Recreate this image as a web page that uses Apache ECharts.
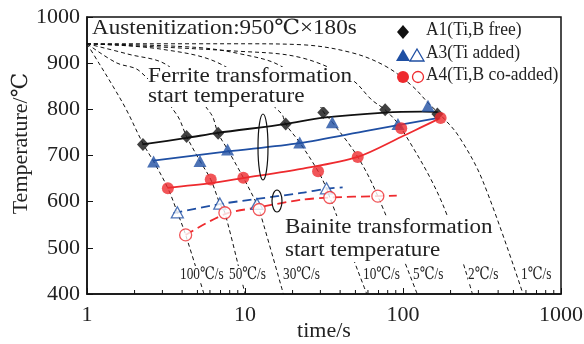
<!DOCTYPE html>
<html>
<head>
<meta charset="utf-8">
<script src="https://cdn.jsdelivr.net/npm/echarts@6/dist/echarts.min.js"></script>
<style>
  html, body { margin: 0; padding: 0; background: #fff; }
  #chart { width: 584px; height: 344px; }
</style>
</head>
<body>
<div id="chart"></div>
<script>
// cooling curves [time s, temperature ℃]
const cool100 = [[1, 942], [1.19, 900], [1.46, 850], [1.77, 800], [2.26, 726], [2.64, 687], [3.25, 629], [3.73, 577], [4.21, 528], [5.5, 400]];
const cool50 = [[1, 942], [1.53, 901], [2.15, 883], [3.69, 789], [4.27, 741], [5.19, 688], [6.07, 648], [6.93, 596], [7.46, 576], [10, 400]];
const cool30 = [[1, 942], [1.8, 920], [3.27, 894], [6.07, 791], [6.76, 748], [7.76, 713], [9.76, 652], [11.9, 595], [12.3, 583], [17.5, 400]];
const cool10 = [[1, 942], [3, 930], [7.2, 896], [16.9, 792], [18.1, 768], [22.2, 728], [29, 666], [32.8, 629], [34.4, 609], [59, 400]];
const cool5 = [[1, 942], [5, 934], [10, 918], [16.4, 896], [26.3, 842], [31.3, 795], [35.7, 772], [51.7, 697], [69.3, 612], [123, 400]];
const cool2 = [[1, 942], [8.9, 926], [22.6, 912], [47, 865], [63.6, 820], [77, 799], [97.5, 759], [177, 597], [275, 400]];
const cool1 = [[1, 942], [10, 942], [22.6, 940], [47, 923], [77, 894], [114, 851], [146, 812], [177, 784], [225, 742], [318, 647], [575, 400]];

// ferrite start points
const a1Ferrite = [[2.26, 724], [4.27, 741], [6.76, 748], [18.1, 768], [31.3, 793], [77.1, 799], [165, 790]];
const a3Ferrite = [[2.64, 687], [5.19, 688], [7.76, 713], [22.2, 728], [35.7, 772], [92.9, 768], [144, 808]];
const a4Ferrite = [[3.25, 629], [6.07, 648], [9.76, 652], [29.0, 666], [51.7, 697], [97.5, 759], [173, 781]];
// bainite start points
const a3Bainite = [[3.73, 577], [6.93, 596], [11.9, 595], [32.8, 629]];
const a4Bainite = [[4.21, 528], [7.46, 576], [12.3, 583], [34.4, 609], [69.3, 612]];

// fitted curves
const a1Fit = [[2.24, 724], [4.27, 738], [6.73, 749], [18.0, 768], [31.4, 782], [76.8, 793], [132, 795], [165, 794]];
const a3Fit = [[2.63, 689], [7.79, 709], [22.1, 727], [60, 754], [165, 781]];
const a4Fit = [[3.23, 630], [6.07, 640], [9.72, 651], [22.7, 671], [51.7, 697], [97.1, 740], [132, 762], [172, 781]];
const a3BainiteFit = [[3.53, 575], [7.03, 595], [11.9, 606], [22.7, 619], [32.8, 628], [41.5, 631]];
const a4BainiteFit = [[4.21, 528], [7.46, 573], [12.3, 588], [22.7, 604], [34.2, 609], [69.3, 612], [91.3, 613]];

const rateLabels = ['100℃/s', '50℃/s', '30℃/s', '10℃/s', '5℃/s', '2℃/s', '1℃/s'];
const minorTicks = [2, 3, 4, 5, 6, 7, 8, 9, 20, 30, 40, 50, 60, 70, 80, 90, 200, 300, 400, 500, 600, 700, 800, 900];

const FONT = '"Liberation Serif", "DejaVu Serif", serif';
const BLUE = '#1f4fa3';
const RED = '#ee2a2e';

const chart = echarts.init(document.getElementById('chart'));

function coolSeries(data) {
  return {
    type: 'line', data: data, smooth: 0.35, showSymbol: false, silent: true, z: 1,
    lineStyle: { color: '#111', width: 1, type: [4, 3] }
  };
}
function fitSeries(data, color, dashed) {
  return {
    type: 'line', data: data, smooth: 0.3, showSymbol: false, silent: true, z: 2,
    lineStyle: { color: color, width: 1.8, type: dashed ? [9, 5] : 'solid' }
  };
}
function pointSeries(data, symbol, size, color, hollow) {
  return {
    type: 'scatter', data: data, symbol: symbol, symbolSize: size, z: 3,
    itemStyle: hollow ? { color: '#fff', borderColor: color, borderWidth: 1.3 } : { color: color }
  };
}

// label x positions are layout only
const rateLabelX = [180, 229, 283, 363, 413, 468, 521];

chart.setOption({
  animation: false,
  grid: { left: 87, right: 23, top: 17, bottom: 50, outerBoundsMode: 'none',
          show: true, borderColor: '#111', borderWidth: 1.5 },
  xAxis: {
    type: 'log', logBase: 10, min: 1, max: 1000,
    name: 'time/s', nameLocation: 'middle', nameGap: 26, nameMoveOverlap: false,
    nameTextStyle: { fontFamily: FONT, fontSize: 22, color: '#222' },
    axisLine: { lineStyle: { color: '#111', width: 1.5 } },
    axisTick: { inside: true, length: 6, lineStyle: { color: '#111' } },
    axisLabel: { fontFamily: FONT, fontSize: 22, color: '#222', margin: 10,
                 formatter: function (v) { return String(v); } },
    splitLine: { show: false }
  },
  yAxis: {
    type: 'value', min: 400, max: 1000, interval: 100,
    name: 'Temperature/℃', nameLocation: 'middle', nameGap: 55, nameRotate: 90, nameMoveOverlap: false,
    nameTextStyle: { fontFamily: FONT, fontSize: 22, color: '#222', padding: [0, 0, 0, 24] },
    axisLine: { lineStyle: { color: '#111', width: 1.5 } },
    axisTick: { inside: true, length: 6, lineStyle: { color: '#111' } },
    axisLabel: { fontFamily: FONT, fontSize: 22, color: '#222', margin: 7,
                 formatter: function (v) { return String(v); } },
    splitLine: { show: false }
  },
  series: [
    coolSeries(cool100), coolSeries(cool50), coolSeries(cool30), coolSeries(cool10),
    coolSeries(cool5), coolSeries(cool2), coolSeries(cool1),
    fitSeries(a1Fit, '#111', false),
    fitSeries(a3Fit, BLUE, false),
    fitSeries(a4Fit, RED, false),
    fitSeries(a3BainiteFit, BLUE, true),
    fitSeries(a4BainiteFit, RED, true),
    pointSeries(a1Ferrite, 'diamond', [12, 13], '#111', false),
    pointSeries(a3Ferrite, 'triangle', [13, 12], BLUE, false),
    pointSeries(a4Ferrite, 'circle', 12, RED, false),
    pointSeries(a3Bainite, 'triangle', [12, 11], BLUE, true),
    pointSeries(a4Bainite, 'circle', 12, RED, true)
  ]
});

// annotations, legend, minor ticks
const graphics = [];
const textStyle = (extra) => Object.assign({ fontFamily: FONT, fontSize: 19, fill: '#222' }, extra);

graphics.push({ type: 'text', x: 92, y: 18, scaleX: 1.1, z: 10,
  style: textStyle({ text: 'Austenitization:950℃×180s', fontSize: 21, backgroundColor: '#fff' }) });
graphics.push({ type: 'text', x: 148, y: 67, scaleX: 1.16, z: 10,
  style: textStyle({ text: 'Ferrite transformation\nstart temperature', fontSize: 20, lineHeight: 20, backgroundColor: '#fff' }) });
graphics.push({ type: 'text', x: 285, y: 216, scaleX: 1.15, z: 10,
  style: textStyle({ text: 'Bainite transformation\nstart temperature', fontSize: 20, lineHeight: 23, backgroundColor: '#fff' }) });

rateLabels.forEach(function (t, i) {
  graphics.push({ type: 'text', x: rateLabelX[i], y: 266, scaleX: 0.78, z: 10,
    style: textStyle({ text: t, fontSize: 17, backgroundColor: '#fff' }) });
});

// ellipses around ferrite and bainite groups
graphics.push({ type: 'ellipse', z: 9, shape: { cx: 263, cy: 147, rx: 5, ry: 33 },
  style: { fill: 'none', stroke: '#111', lineWidth: 1.2 } });
graphics.push({ type: 'ellipse', z: 9, shape: { cx: 277, cy: 201, rx: 5, ry: 11 },
  style: { fill: 'none', stroke: '#111', lineWidth: 1.2 } });

// legend
graphics.push({ type: 'polygon', z: 10, shape: { points: [[403, 25], [409, 32], [403, 39], [397, 32]] }, style: { fill: '#111' } });
graphics.push({ type: 'text', x: 426, y: 21, scaleX: 0.92, z: 10, style: textStyle({ text: 'A1(Ti,B free)' }) });
graphics.push({ type: 'polygon', z: 10, shape: { points: [[403, 49], [410, 61], [396, 61]] }, style: { fill: BLUE } });
graphics.push({ type: 'polygon', z: 10, shape: { points: [[417, 49], [424, 61], [410, 61]] }, style: { fill: '#fff', stroke: BLUE, lineWidth: 1.3 } });
graphics.push({ type: 'text', x: 426, y: 44, scaleX: 0.92, z: 10, style: textStyle({ text: 'A3(Ti added)' }) });
graphics.push({ type: 'circle', z: 10, shape: { cx: 403, cy: 77, r: 6 }, style: { fill: RED } });
graphics.push({ type: 'circle', z: 10, shape: { cx: 418, cy: 77, r: 5.5 }, style: { fill: '#fff', stroke: RED, lineWidth: 1.3 } });
graphics.push({ type: 'text', x: 426, y: 66, scaleX: 0.92, z: 10, style: textStyle({ text: 'A4(Ti,B co-added)' }) });

// log minor ticks on the time axis
const axisY = chart.convertToPixel({ yAxisIndex: 0 }, 400);
minorTicks.forEach(function (v) {
  const p = chart.convertToPixel({ xAxisIndex: 0 }, v);
  graphics.push({ type: 'line', z: 5, shape: { x1: p, y1: axisY, x2: p, y2: axisY - 4 }, style: { stroke: '#111', lineWidth: 1 } });
});

chart.setOption({ graphic: graphics });
</script>
</body>
</html>
